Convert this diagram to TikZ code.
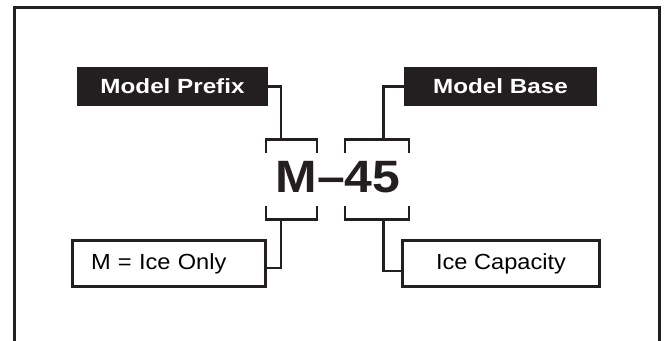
\documentclass[tikz,border=0pt]{standalone}
\usepackage{fontspec}
\setmainfont{Liberation Sans}
\newfontfamily\labelfont[FakeStretch=1.18]{Liberation Sans}
\newfontfamily\boxfont[FakeStretch=1.08]{Liberation Sans}
\newfontfamily\codefont[FakeStretch=1.1]{Liberation Sans}
\usetikzlibrary{calc}
\definecolor{ink}{HTML}{231F20}
\tikzset{
  darklabel/.style={fill=ink, text=white, inner sep=0pt, outer sep=0pt,
    minimum width=143.25pt, minimum height=29.25pt,
    font=\labelfont\fontsize{15.4pt}{18pt}\bfseries},
  valuebox/.style={draw=ink, line width=2.25pt, inner sep=0pt, outer sep=0pt,
    minimum height=34.5pt, font=\boxfont\fontsize{16.4pt}{19pt}\selectfont},
  bracket/.style={draw=ink, line width=1.9pt},
  link/.style={draw=ink, line width=1.7pt},
  frameline/.style={draw=ink, line width=2.25pt}
}
\begin{document}
\begin{tikzpicture}[x=0.75pt, y=-0.75pt]
\useasboundingbox (0,0) rectangle (665,341);
% outer frame (open at bottom)
\draw[frameline] (14,341) -- (14,7.5) -- (659,7.5) -- (659,341);

% labels
\node[darklabel] (prefix) at (172.5,86.5) {Model Prefix};
\node[darklabel, minimum width=144.75pt] (base) at (500.5,86.5) {Model Base};

% model code
\node[inner sep=0pt, text=ink, font=\codefont\fontsize{34pt}{40pt}\bfseries] (code) at (338,177) {M–45};

% brackets
\draw[bracket] (266,153) -- (266,139.5) -- (317,139.5) -- (317,153);
\draw[bracket] (345,153) -- (345,139.5) -- (409,139.5) -- (409,153);
\draw[bracket] (266,206) -- (266,219.5) -- (317,219.5) -- (317,206);
\draw[bracket] (345,206) -- (345,219.5) -- (409,219.5) -- (409,206);
\coordinate (pt) at (281,139.5);
\coordinate (bt) at (383.5,139.5);
\coordinate (pb) at (281,219.5);
\coordinate (bb) at (383.5,219.5);

% value boxes
\node[valuebox, minimum width=144.75pt, text width=117pt, align=left] (ionly) at (169,263.8) {M = Ice Only};
\node[valuebox, minimum width=147.75pt, align=center] (icap) at (501,263.7) {Ice Capacity};

% connectors
\draw[link] (prefix.east) -| (pt);
\draw[link] (base.west) -| (bt);
\draw[link] (pb) |- ($(ionly.east)+(0,4.5)$);
\draw[link] (bb) |- ($(icap.west)+(0,7)$);
\end{tikzpicture}
\end{document}
